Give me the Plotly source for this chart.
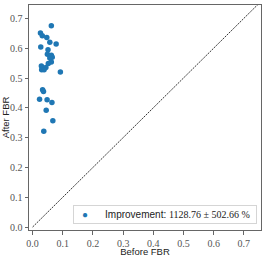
import plotly.graph_objects as go

before_fbr = [0.062, 0.026, 0.032, 0.047, 0.057, 0.078, 0.027, 0.051, 0.049, 0.062,
              0.065, 0.057, 0.062, 0.052, 0.029, 0.044, 0.030, 0.038, 0.092, 0.033,
              0.036, 0.023, 0.048, 0.064, 0.045, 0.067, 0.037]
after_fbr = [0.675, 0.651, 0.642, 0.636, 0.620, 0.614, 0.604, 0.595, 0.580, 0.576,
             0.570, 0.567, 0.554, 0.549, 0.540, 0.535, 0.528, 0.528, 0.520, 0.461,
             0.455, 0.429, 0.427, 0.418, 0.392, 0.357, 0.321]
diag = [0.0, 0.76]
tick_vals = [0.0, 0.1, 0.2, 0.3, 0.4, 0.5, 0.6, 0.7]
tick_text = ["0.0", "0.1", "0.2", "0.3", "0.4", "0.5", "0.6", "0.7"]
legend_label = ('\u2002<span style="color:#1f77b4">●</span>\u2003\u2002\u2009'
                'Improvement: <span style="font-family:\'Liberation Serif\'">'
                '1128.76 ± 502.66 %</span>')

fig = go.Figure()
fig.add_trace(go.Scatter(x=diag, y=diag, mode="lines", showlegend=False,
                         line=dict(color="black", width=0.8, dash="2px,1px")))
fig.add_trace(go.Scatter(x=before_fbr, y=after_fbr, mode="markers", showlegend=False,
                         name="Improvement", marker=dict(color="#1f77b4", size=5.5)))

axis_common = dict(
    showgrid=False, zeroline=False, showline=True, linecolor="#666", linewidth=1,
    mirror=True, ticks="outside", ticklen=3.5, tickwidth=0.8, tickcolor="#666",
    tickvals=tick_vals, ticktext=tick_text, automargin=False,
    tickfont=dict(family="Liberation Serif", size=10, color="#555"),
)
fig.update_xaxes(range=[-0.012, 0.757], title=dict(text="Before FBR", standoff=0,
                 font=dict(family="Liberation Sans", size=9.5, color="#222")), **axis_common)
fig.update_yaxes(range=[-0.010, 0.745], title=dict(text="After FBR", standoff=3,
                 font=dict(family="Liberation Sans", size=9.5, color="#222")), **axis_common)

fig.add_annotation(
    xref="paper", yref="paper", x=0.983, y=0.025, xanchor="right", yanchor="bottom",
    text=legend_label, showarrow=False, align="left", width=176,
    font=dict(family="Liberation Sans", size=10, color="#222"),
    bgcolor="white", bordercolor="#d5d5d5", borderwidth=1, borderpad=3,
)

fig.update_layout(
    width=266, height=257,
    margin=dict(l=29, r=5, t=5, b=27),
    plot_bgcolor="white", paper_bgcolor="white",
    showlegend=False,
)
fig.write_html("out.html", config={"displayModeBar": False},
               post_script="document.body.style.margin='0';")
